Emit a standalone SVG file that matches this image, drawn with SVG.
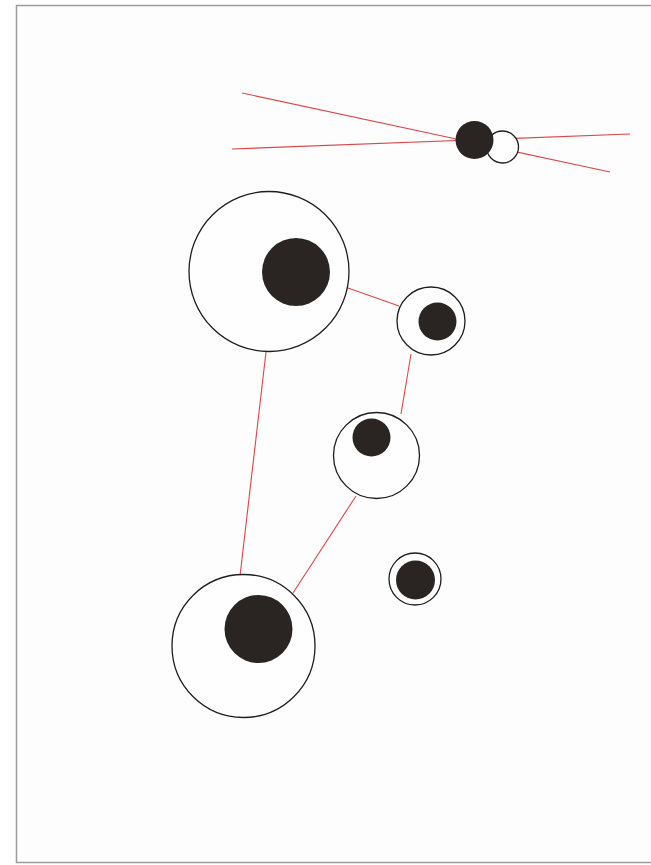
<svg xmlns="http://www.w3.org/2000/svg" width="651" height="865" viewBox="0 0 651 865">
<defs>
<style>
.ring{fill:#fefefe;stroke:#1e1e1e;stroke-width:1.3}
.core{fill:#2a2523}
.link{stroke:#d9464a;stroke-width:1.1;fill:none}
</style>
</defs>
<rect x="0" y="0" width="651" height="865" fill="#ffffff"/>
<rect x="16.5" y="5.5" width="660" height="857" fill="#fdfdfd" stroke="#9c9c9c" stroke-width="1.5"/>
<g id="connectors">
<line class="link" x1="242" y1="93" x2="610" y2="172"/>
<line class="link" x1="232" y1="149" x2="630" y2="134"/>
<line class="link" x1="348" y1="288" x2="399" y2="306"/>
<line class="link" x1="266" y1="352" x2="240" y2="576"/>
<line class="link" x1="411" y1="354" x2="401" y2="414"/>
<line class="link" x1="356" y1="496" x2="293" y2="593"/>
</g>
<g id="n0">
<circle class="ring" cx="502.5" cy="147" r="16"/>
<circle class="core" cx="474.5" cy="140" r="19"/>
</g>
<g id="n1">
<circle class="ring" cx="269" cy="271.5" r="80"/>
<circle class="core" cx="296" cy="272" r="34"/>
</g>
<g id="n2">
<circle class="ring" cx="431" cy="321" r="34"/>
<circle class="core" cx="437.5" cy="321.5" r="19"/>
</g>
<g id="n3">
<circle class="ring" cx="376.5" cy="455.5" r="43"/>
<circle class="core" cx="371.5" cy="437.5" r="19"/>
</g>
<g id="n4">
<circle class="ring" cx="415" cy="579" r="26"/>
<circle class="core" cx="415.5" cy="580" r="19.5"/>
</g>
<g id="n5">
<circle class="ring" cx="243.5" cy="646" r="71.5"/>
<circle class="core" cx="258.5" cy="629" r="34"/>
</g>
</svg>
